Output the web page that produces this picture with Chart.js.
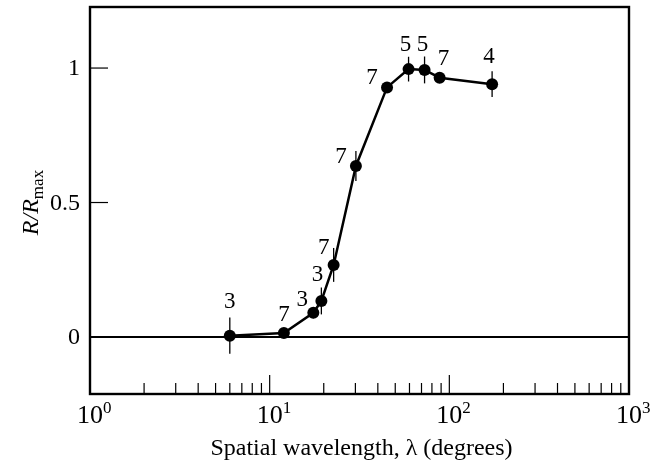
<!DOCTYPE html>
<html>
<head>
<meta charset="utf-8">
<script src="https://cdn.jsdelivr.net/npm/chart.js@4.4.1/dist/chart.umd.min.js"></script>
<style>
  html, body { margin: 0; background: #fff; }
</style>
</head>
<body>
<canvas id="grafico-resposta" width="660" height="460"></canvas>
<script>
// dados
const wavelengths = [6, 12, 17.5, 19.4, 22.7, 30.2, 45, 59.3, 72.8, 88.3, 173];
const responses   = [0.005, 0.015, 0.09, 0.134, 0.268, 0.636, 0.928, 0.996, 0.993, 0.964, 0.94];
const errors      = [0.067, 0.01, 0.02, 0.05, 0.063, 0.056, 0.02, 0.046, 0.05, 0.02, 0.048];
const counts      = ["3", "7", "3", "3", "7", "7", "7", "5", "5", "7", "4"];

const xTickValues = [1, 10, 100, 1000];
const xTickExps   = ["0", "1", "2", "3"];
const yTickValues = [0, 0.5, 1];
const yTickLabels = ["0", "0.5", "1"];

// deslocamento (px) de cada numero em relacao ao ponto
const countOffsets = [[0, -34], [0, -18], [-11, -13], [-4, -26], [-10, -17], [-15, -9],
                      [-15, -9], [-3, -24], [-2, -25], [4, -19], [-3, -27]];

const FONT = '"Liberation Serif", "Times New Roman", serif';

const extras = {
  id: "extras",
  beforeDatasetsDraw(chart) {
    const ctx = chart.ctx, x = chart.scales.x, y = chart.scales.y, a = chart.chartArea;
    ctx.save();
    ctx.strokeStyle = "#000";
    // linha do zero
    ctx.lineWidth = 2.2;
    ctx.beginPath();
    ctx.moveTo(a.left, y.getPixelForValue(0));
    ctx.lineTo(a.right, y.getPixelForValue(0));
    ctx.stroke();
    // barras de erro
    ctx.lineWidth = 1.3;
    wavelengths.forEach((w, i) => {
      const px = x.getPixelForValue(w);
      ctx.beginPath();
      ctx.moveTo(px, y.getPixelForValue(responses[i] - errors[i]));
      ctx.lineTo(px, y.getPixelForValue(responses[i] + errors[i]));
      ctx.stroke();
    });
    ctx.restore();
  },
  afterDraw(chart) {
    const ctx = chart.ctx, x = chart.scales.x, y = chart.scales.y, a = chart.chartArea;
    ctx.save();
    ctx.strokeStyle = "#000";
    ctx.fillStyle = "#000";
    // moldura
    ctx.lineWidth = 2.4;
    ctx.strokeRect(a.left, a.top, a.right - a.left, a.bottom - a.top);

    // ticks do eixo x (para dentro)
    ctx.lineWidth = 1.2;
    for (let d = 0; d < 3; d++) {
      for (let m = 1; m <= 9; m++) {
        const v = m * Math.pow(10, d);
        if (v === 1) continue;
        const px = x.getPixelForValue(v);
        const len = m === 1 ? 19 : 11;
        ctx.beginPath();
        ctx.moveTo(px, a.bottom);
        ctx.lineTo(px, a.bottom - len);
        ctx.stroke();
      }
    }
    // ticks do eixo y
    yTickValues.forEach(v => {
      const py = y.getPixelForValue(v);
      ctx.beginPath();
      ctx.moveTo(a.left, py);
      ctx.lineTo(a.left + 18, py);
      ctx.stroke();
    });

    // rotulos do eixo y
    ctx.font = "24px " + FONT;
    ctx.textAlign = "right";
    ctx.textBaseline = "middle";
    yTickValues.forEach((v, i) => {
      ctx.fillText(yTickLabels[i], a.left - 10, y.getPixelForValue(v) + 1);
    });

    // rotulos do eixo x: 10 com expoente
    xTickValues.forEach((v, i) => {
      const px = x.getPixelForValue(v);
      ctx.font = "26px " + FONT;
      ctx.textAlign = "center";
      ctx.textBaseline = "alphabetic";
      ctx.fillText("10", px, a.bottom + 29);
      const w = ctx.measureText("10").width;
      ctx.font = "17px " + FONT;
      ctx.textAlign = "left";
      ctx.fillText(xTickExps[i], px + w / 2, a.bottom + 19);
    });

    // titulo do eixo x
    ctx.font = "24px " + FONT;
    ctx.textAlign = "center";
    ctx.fillText("Spatial wavelength, \u03bb (degrees)", (a.left + a.right) / 2 + 2, a.bottom + 61);

    // titulo do eixo y: R/Rmax rotacionado
    ctx.save();
    ctx.translate(38, (a.top + a.bottom) / 2 + 2);
    ctx.rotate(-Math.PI / 2);
    const parts = [
      { t: "R/R", f: "italic 24px " + FONT, dy: 0 },
      { t: "max", f: "17px " + FONT, dy: 5 }
    ];
    let total = 0;
    parts.forEach(p => { ctx.font = p.f; total += ctx.measureText(p.t).width; });
    let cx = -total / 2;
    ctx.textAlign = "left";
    parts.forEach(p => {
      ctx.font = p.f;
      ctx.fillText(p.t, cx, p.dy);
      cx += ctx.measureText(p.t).width;
    });
    ctx.restore();

    // numeros sobre os pontos
    ctx.font = "23px " + FONT;
    ctx.textAlign = "center";
    ctx.textBaseline = "middle";
    wavelengths.forEach((w, i) => {
      ctx.fillText(counts[i],
        x.getPixelForValue(w) + countOffsets[i][0],
        y.getPixelForValue(responses[i]) + countOffsets[i][1]);
    });
    ctx.restore();
  }
};

new Chart(document.getElementById("grafico-resposta"), {
  type: "scatter",
  data: {
    datasets: [{
      data: wavelengths.map((w, i) => ({ x: w, y: responses[i] })),
      showLine: true,
      borderColor: "#000",
      borderWidth: 2.5,
      pointRadius: 6,
      pointBackgroundColor: "#000",
      pointBorderColor: "#000",
      pointBorderWidth: 0
    }]
  },
  options: {
    responsive: false,
    animation: false,
    layout: { padding: { left: 90, right: 31, top: 7, bottom: 66 } },
    plugins: { legend: { display: false }, tooltip: { enabled: false } },
    scales: {
      x: { type: "logarithmic", min: 1, max: 1000, display: false },
      y: { min: -0.212, max: 1.227, display: false }
    }
  },
  plugins: [extras]
});
</script>
</body>
</html>
